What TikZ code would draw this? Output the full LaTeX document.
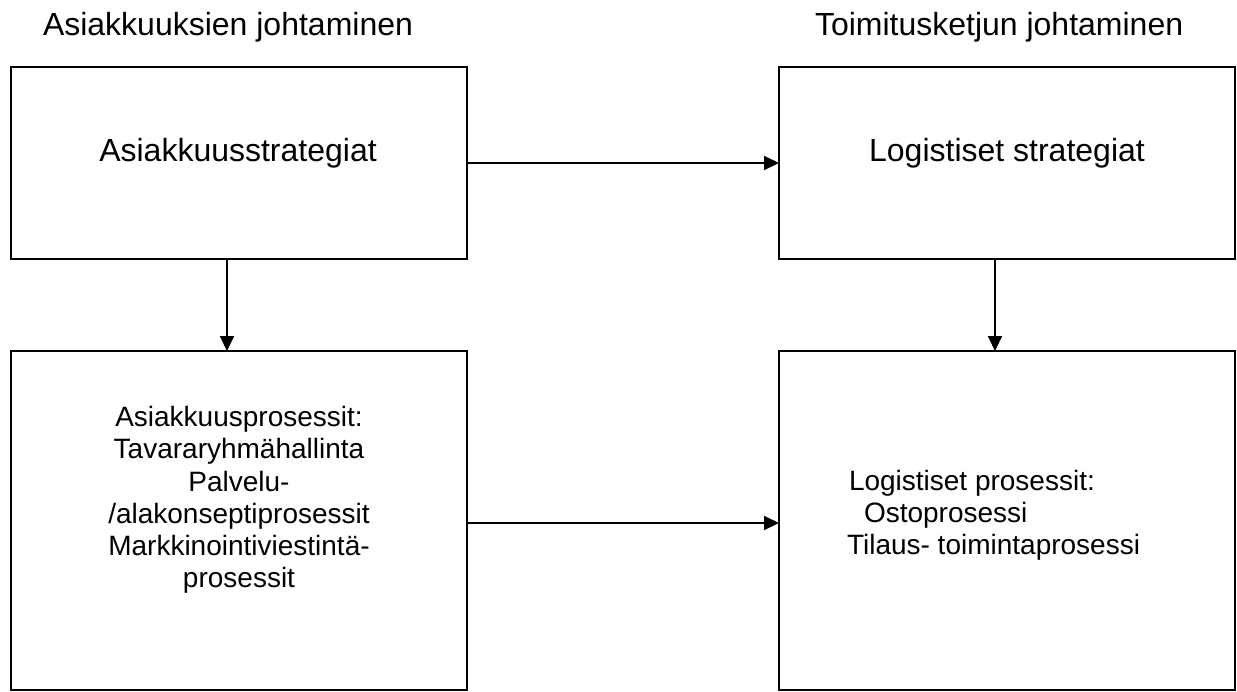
\documentclass[tikz,border=0pt]{standalone}
\usepackage{fontspec}
\setmainfont{Liberation Sans}
\usetikzlibrary{arrows.meta}
\begin{document}
\begin{tikzpicture}[x=0.5pt,y=-0.5pt,
  every node/.style={inner sep=0pt,outer sep=0pt},
  bigtext/.style={font=\fontsize{16pt}{18.4pt}\selectfont},
  smalltext/.style={font=\fontsize{14pt}{16.1pt}\selectfont},
  panel/.style={draw,line width=1pt,rectangle,minimum width=228pt},
  toppanel/.style={panel,minimum height=96pt},
  lowpanel/.style={panel,minimum height=169.5pt},
  flow/.style={line width=1pt,-{Triangle[length=7.5pt,width=7pt]}}]
\useasboundingbox (0,0) rectangle (1237,691);

% column headings
\node[bigtext,anchor=base west] (hl) at (43,35) {Asiakkuuksien johtaminen};
\node[bigtext,anchor=base west] (hr) at (815,35) {Toimitusketjun johtaminen};

% boxes
\node[toppanel] (tl) at (239,163) {};
\node[toppanel] (tr) at (1007,163) {};
\node[lowpanel] (bl) at (239,520.5) {};
\node[lowpanel] (br) at (1007,520.5) {};

% box texts
\node[bigtext,anchor=base] (tlt) at (238,161) {Asiakkuusstrategiat};
\node[bigtext,anchor=base] (trt) at (1007,161) {Logistiset strategiat};
\node[smalltext,align=center] (blt) at (239,500) {Asiakkuusprosessit:\\Tavararyhmähallinta\\Palvelu-\\/alakonseptiprosessit\\Markkinointiviestintä-\\prosessit};
\node[smalltext,align=left,anchor=north west] (brt) at (847,470) {\hspace*{1pt}Logistiset prosessit:\\\hspace*{8.5pt}Ostoprosessi\\Tilaus- toimintaprosessi};

% connectors
\draw[flow] (tl.east) -- (tr.west);
\draw[flow] ([xshift=-6pt]tl.south) -- ([xshift=-6pt]bl.north);
\draw[flow] ([xshift=-6pt]tr.south) -- ([xshift=-6pt]br.north);
\draw[flow] ([yshift=-1.25pt]bl.east) -- ([yshift=-1.25pt]br.west);
\end{tikzpicture}
\end{document}
